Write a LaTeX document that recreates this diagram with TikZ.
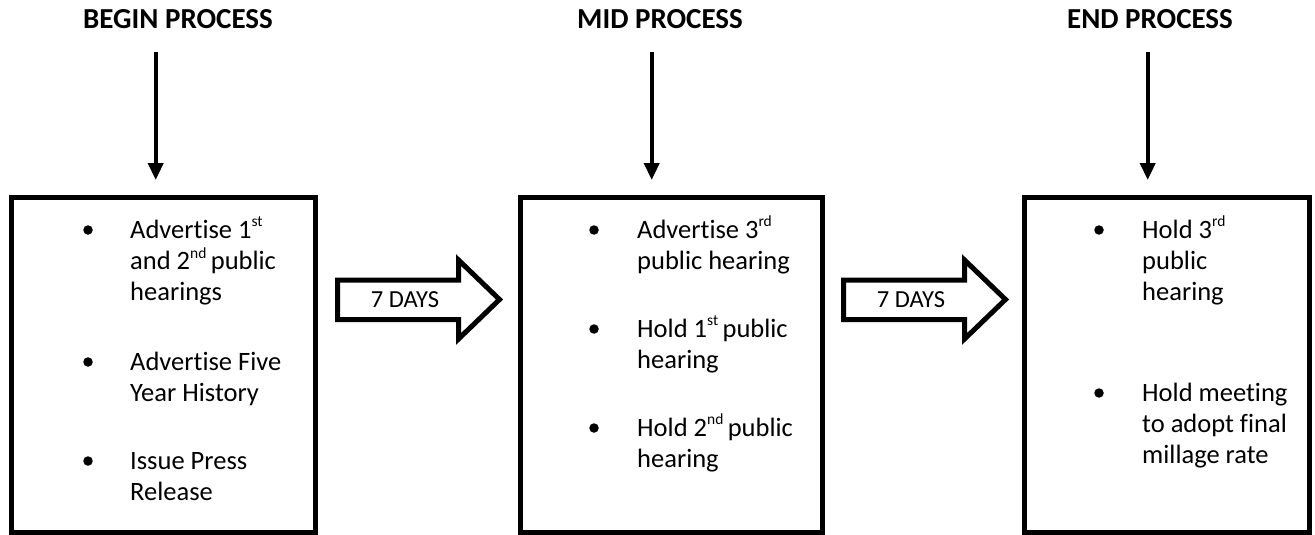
\documentclass[tikz,border=0pt]{standalone}
\usepackage{fontspec}
\setmainfont{Carlito}[Ligatures={NoCommon}]
\usetikzlibrary{arrows.meta}
\newcommand{\sups}[1]{\raisebox{0.42em}{\fontsize{15.5}{15.5}\selectfont #1}}
\begin{document}
\begin{tikzpicture}[x=1pt,y=-1pt,
  title/.style={font=\fontsize{29}{33}\selectfont\bfseries, anchor=base, inner sep=0pt},
  procbox/.style={draw, line width=5pt, minimum height=335pt, inner sep=0pt},
  txt/.style={font=\fontsize{26.5}{31}\selectfont, anchor=base west, inner sep=0pt},
  dot/.style={circle, fill, inner sep=0pt, minimum size=9.5pt},
  down/.style={line width=3.8pt, -{Triangle[width=15pt,length=17pt]}},
  blockarrow/.style={draw, line width=5pt, fill=white, miter limit=10},
  days/.style={font=\fontsize{24.5}{28}\selectfont, inner sep=0pt}]
\useasboundingbox (0,0) rectangle (1315,535);

% titles
\node[title] (t1) at (178,28.3) {BEGIN PROCESS};
\node[title] (t2) at (660,28.3) {MID PROCESS};
\node[title] (t3) at (1150,28.3) {END PROCESS};

% boxes
\node[procbox, minimum width=304pt] (b1) at (163.5,365) {};
\node[procbox, minimum width=302pt] (b2) at (671,365) {};
\node[procbox, minimum width=285.5pt] (b3) at (1166.75,365) {};

% down arrows
\coordinate (s1) at (155.7,52);  \coordinate (e1) at (155.7,180);
\coordinate (s2) at (651.7,52);  \coordinate (e2) at (651.7,180);
\coordinate (s3) at (1147.7,52); \coordinate (e3) at (1147.7,180);
\draw[down] (s1) -- (e1);
\draw[down] (s2) -- (e2);
\draw[down] (s3) -- (e3);

% block arrows
\draw[blockarrow] (337.5,280) -- (458.5,280) -- (458.5,260) -- (499.5,299.5) -- (458.5,339) -- (458.5,319.5) -- (337.5,319.5) -- cycle;
\node[days] (d1) at (405,300) {7 DAYS};
\draw[blockarrow] (843.5,280) -- (964.5,280) -- (964.5,260) -- (1005.5,299.5) -- (964.5,339) -- (964.5,319.5) -- (843.5,319.5) -- cycle;
\node[days] (d2) at (911,300) {7 DAYS};

% box 1 content
\node[dot] (p11) at (88,230) {};
\node[txt] (l11) at (130,238) {Advertise 1\sups{st}};
\node[txt] (l12) at (130,269.3) {and 2\sups{nd}\,public};
\node[txt] (l13) at (130,300.6) {hearings};
\node[dot] (p12) at (88,362) {};
\node[txt] (l14) at (130,370) {Advertise Five};
\node[txt] (l15) at (130,401.3) {Year History};
\node[dot] (p13) at (88,461) {};
\node[txt] (l16) at (130,469) {Issue Press};
\node[txt] (l17) at (130,500.3) {Release};

% box 2 content
\node[dot] (p21) at (594,230) {};
\node[txt] (l21) at (637,238) {Advertise 3\sups{rd}};
\node[txt] (l22) at (637,269.3) {public hearing};
\node[dot] (p22) at (594,329) {};
\node[txt] (l23) at (637,337) {Hold 1\sups{st}\,public};
\node[txt] (l24) at (637,368.3) {hearing};
\node[dot] (p23) at (594,428) {};
\node[txt] (l25) at (637,436) {Hold 2\sups{nd}\,public};
\node[txt] (l26) at (637,467.3) {hearing};

% box 3 content
\node[dot] (p31) at (1099,230) {};
\node[txt] (l31) at (1142,238) {Hold 3\sups{rd}};
\node[txt] (l32) at (1142,269.3) {public};
\node[txt] (l33) at (1142,300.6) {hearing};
\node[dot] (p32) at (1099,393) {};
\node[txt] (l34) at (1142,401) {Hold meeting};
\node[txt] (l35) at (1142,432.3) {to adopt final};
\node[txt] (l36) at (1142,463.6) {millage rate};
\end{tikzpicture}
\end{document}
